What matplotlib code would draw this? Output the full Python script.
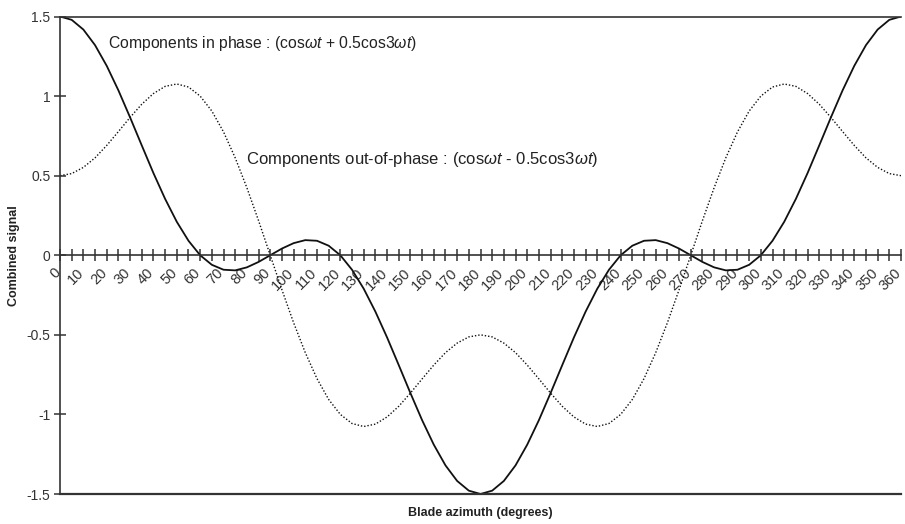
import numpy as np
import matplotlib.pyplot as plt
import matplotlib.transforms as mtransforms
from matplotlib.ticker import MultipleLocator

plt.rcParams.update({
    'font.family': 'Liberation Sans',
    'mathtext.fontset': 'custom',
    'mathtext.rm': 'Liberation Sans',
    'mathtext.it': 'Liberation Sans:italic',
})

# blade azimuth, degrees (5 degree steps)
azimuth = list(range(0, 365, 5))

# cos(wt) + 0.5cos(3wt)
in_phase = [1.500, 1.479, 1.418, 1.320, 1.190, 1.036, 0.866, 0.690, 0.516, 0.354,
            0.210, 0.091, 0.000, -0.060, -0.091, -0.095, -0.076, -0.042, 0.000, 0.042,
            0.076, 0.095, 0.091, 0.060, 0.000, -0.091, -0.210, -0.354, -0.516, -0.690,
            -0.866, -1.036, -1.190, -1.320, -1.418, -1.479, -1.500, -1.479, -1.418, -1.320,
            -1.190, -1.036, -0.866, -0.690, -0.516, -0.354, -0.210, -0.091, 0.000, 0.060,
            0.091, 0.095, 0.076, 0.042, 0.000, -0.042, -0.076, -0.095, -0.091, -0.060,
            0.000, 0.091, 0.210, 0.354, 0.516, 0.690, 0.866, 1.036, 1.190, 1.320,
            1.418, 1.479, 1.500]

# cos(wt) - 0.5cos(3wt)
out_phase = [0.500, 0.513, 0.552, 0.612, 0.690, 0.777, 0.866, 0.949, 1.016, 1.061,
             1.076, 1.057, 1.000, 0.906, 0.775, 0.612, 0.424, 0.217, 0.000, -0.217,
             -0.424, -0.612, -0.775, -0.906, -1.000, -1.057, -1.076, -1.061, -1.016, -0.949,
             -0.866, -0.777, -0.690, -0.612, -0.552, -0.513, -0.500, -0.513, -0.552, -0.612,
             -0.690, -0.777, -0.866, -0.949, -1.016, -1.061, -1.076, -1.057, -1.000, -0.906,
             -0.775, -0.612, -0.424, -0.217, 0.000, 0.217, 0.424, 0.612, 0.775, 0.906,
             1.000, 1.057, 1.076, 1.061, 1.016, 0.949, 0.866, 0.777, 0.690, 0.612,
             0.552, 0.513, 0.500]

y_ticks = [-1.5, -1, -0.5, 0, 0.5, 1, 1.5]
y_tick_labels = ['-1.5', '-1', '-0.5', '0', '0.5', '1', '1.5']
x_ticks = list(range(0, 361, 10))

W, H = 905, 524
fig = plt.figure(figsize=(W / 100, H / 100), dpi=100)
ax = fig.add_axes([60 / W, (H - 494) / H, (901 - 60) / W, (494 - 16.5) / H])

ax.plot(azimuth, in_phase, '-', color='#111111', linewidth=1.3)
ax.plot(azimuth, out_phase, linestyle=(0, (1, 1.4)), color='#111111', linewidth=1.0)

ax.set_xlim(0, 360)
ax.set_ylim(-1.5, 1.5)

# x axis crosses at zero, frame lines at top and bottom
ax.spines['bottom'].set_position(('data', 0))
ax.spines['right'].set_visible(False)
for s in ['left', 'top', 'bottom']:
    ax.spines[s].set_color('#333333')
    ax.spines[s].set_linewidth(1.2)
ax.axhline(-1.5, color='#333333', linewidth=1.6, clip_on=False)

ax.set_yticks(y_ticks)
ax.set_yticklabels(y_tick_labels)
ax.set_xticks(x_ticks)
ax.set_xticklabels([str(v) for v in x_ticks], rotation=45, ha='right', va='top',
                   rotation_mode='anchor')
ax.xaxis.set_minor_locator(MultipleLocator(5))
ax.tick_params(axis='x', which='both', direction='inout', length=9, width=1.1,
               color='#333333', labelsize=10.5, labelcolor='#333333', pad=3)
ax.tick_params(axis='y', direction='inout', length=8, width=1.1, color='#333333',
               labelsize=10, labelcolor='#333333', pad=3)

# nudge the rotated labels a little to the left
shift = mtransforms.ScaledTranslation(-7 / 100, 0, fig.dpi_scale_trans)
for lab in ax.get_xticklabels():
    lab.set_transform(lab.get_transform() + shift)

ax.text(20.5, 1.33, r'Components in phase : (cos$\omega\mathit{t}$ + 0.5cos3$\omega\mathit{t}$)',
        fontsize=11.3, color='#222222', va='center', ha='left')
ax.text(79.5, 0.60, r'Components out-of-phase : (cos$\omega\mathit{t}$ - 0.5cos3$\omega\mathit{t}$)',
        fontsize=12, color='#222222', va='center', ha='left')

fig.text(14 / W, 1 - 256 / H, 'Combined signal', rotation=90, fontsize=9, fontweight='bold',
         ha='center', va='center', color='#222222')
fig.text(480 / W, 1 - 513 / H, 'Blade azimuth (degrees)', fontsize=9, fontweight='bold',
         ha='center', va='center', color='#222222')

fig.savefig('out.png', dpi=100)
